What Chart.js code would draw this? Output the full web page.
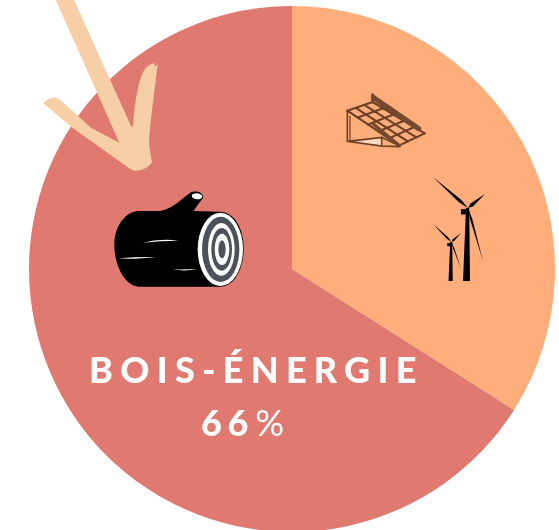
<!DOCTYPE html>
<html><head><meta charset="utf-8">
<style>html,body{margin:0;padding:0;background:#fff;overflow:hidden;width:559px;height:530px}
#w{position:absolute;left:0;top:0;width:559px;height:540px}</style>
<script src="https://cdn.jsdelivr.net/npm/chart.js@4"></script>
</head><body><div id="w"><canvas id="c"></canvas></div>
<script>
const categories = ["Solaire et éolien", "Bois-énergie"];
const shares = [34, 66];
const sliceColors = ["#FFAD7B", "#E07A70"];
const mainLabel = "BOIS-ÉNERGIE";
const shareDigits = "66";
const shareSign = "%";

function poly(ctx, ox, oy, s, f){
  const X=x=>ox+x/s, Y=y=>oy+y/s;
  f({m:(x,y)=>ctx.moveTo(X(x),Y(y)), l:(x,y)=>ctx.lineTo(X(x),Y(y)),
     q:(a,b,x,y)=>ctx.quadraticCurveTo(X(a),Y(b),X(x),Y(y)),
     c:(a,b,c2,d,x,y)=>ctx.bezierCurveTo(X(a),Y(b),X(c2),Y(d),X(x),Y(y))});
}
function arrow(ctx){
  ctx.fillStyle="#F6CFA7"; ctx.beginPath();
  poly(ctx,30,0,3,p=>{
    p.m(75,-5);p.l(268,428);p.l(185,385);p.l(88,298);p.q(65,285,40,310);
    p.l(125,382);p.l(305,510);p.c(325,518,355,505,366,487);p.l(358,440);
    p.c(355,400,372,290,383,192);p.l(376,200);p.l(372,190);p.c(345,195,335,220,325,260);
    p.c(315,300,312,340,308,380);p.l(304,380);p.l(130,-5);
  });
  ctx.closePath();ctx.fill();
}
function log(ctx){
  const X=x=>110+x/3,Y=y=>185+y/3;
  ctx.fillStyle="#000";ctx.beginPath();
  poly(ctx,110,185,3,p=>{
    p.m(85,78);p.l(150,78);p.c(190,72,215,40,240,24);p.c(255,15,280,20,279,38);
    p.l(250,78);p.l(330,80);p.c(372,80,402,130,401,192);p.c(400,255,372,305,330,305);
    p.l(85,305);p.c(40,300,13,235,13,180);p.c(13,125,45,80,85,78);
  });
  ctx.closePath();ctx.fill();
  ctx.fillStyle="#fff";ctx.beginPath();ctx.ellipse(X(261),Y(34),5.2,3,0.1,0,7);ctx.fill();
  const rings=[[68,110,"#fff",331],[56,98,"#4B525B",332],[40,79,"#fff",334],[31,64,"#4B525B",335],[22,47,"#fff",336],[11,27,"#4B525B",336]];
  rings.forEach(r=>{ctx.fillStyle=r[2];ctx.beginPath();ctx.ellipse(X(r[3]),Y(193),r[0]/3,r[1]/3,0,0,7);ctx.fill();});
  ctx.fillStyle="#fff";
  [[[98,173],[150,160],[205,167],[150,167]],[[25,220],[70,216],[138,216],[70,224]],[[188,253],[225,254],[262,252],[225,260]]].forEach(s=>{
    ctx.beginPath();ctx.moveTo(X(s[0][0]),Y(s[0][1]));
    ctx.quadraticCurveTo(X(s[1][0]),Y(s[1][1]),X(s[2][0]),Y(s[2][1]));
    ctx.quadraticCurveTo(X(s[3][0]),Y(s[3][1]),X(s[0][0]),Y(s[0][1]));ctx.fill();
  });
}
function solar(ctx){
  const X=x=>340+x/3,Y=y=>88+y/3;
  const c="#6A4027";
  ctx.lineCap="round";
  ctx.fillStyle="#FFD9C0";ctx.beginPath();ctx.moveTo(X(45),Y(162));ctx.lineTo(X(125),Y(150));ctx.lineTo(X(125),Y(172));ctx.closePath();ctx.fill();
  ctx.strokeStyle=c;
  const A=[22,68],B=[98,42],C=[254,136],D=[178,172];
  const L=(a,b,t)=>[a[0]+(b[0]-a[0])*t,a[1]+(b[1]-a[1])*t];
  ctx.lineWidth=2.1;
  for(let i=0;i<=3;i++){const t=i/3,u=L(A,B,t),v=L(D,C,t);ctx.beginPath();ctx.moveTo(X(u[0]),Y(u[1]));ctx.lineTo(X(v[0]),Y(v[1]));ctx.stroke();}
  for(let i=0;i<=5;i++){const t=i/5,u=L(A,D,t),v=L(B,C,t);ctx.beginPath();ctx.moveTo(X(u[0]),Y(u[1]));ctx.lineTo(X(v[0]),Y(v[1]));ctx.stroke();}
  ctx.lineWidth=5;ctx.strokeStyle="#75492D";ctx.beginPath();ctx.moveTo(X(100),Y(28));ctx.lineTo(X(236),Y(122));ctx.stroke();
  ctx.lineWidth=3;ctx.beginPath();ctx.moveTo(X(98),Y(42));ctx.lineTo(X(98),Y(20));ctx.stroke();
  ctx.lineWidth=3;ctx.beginPath();ctx.moveTo(X(100),Y(108));ctx.lineTo(X(178),Y(172));ctx.stroke();
  ctx.lineWidth=1.6;ctx.strokeStyle=c;
  ctx.beginPath();ctx.moveTo(X(22),Y(68));ctx.lineTo(X(22),Y(160));ctx.lineTo(X(125),Y(174));ctx.lineTo(X(125),Y(148));ctx.lineTo(X(22),Y(160));
  ctx.moveTo(X(125),Y(174));ctx.lineTo(X(180),Y(176));ctx.moveTo(X(125),Y(148));ctx.lineTo(X(175),Y(172));ctx.stroke();
  ctx.lineWidth=1.2;ctx.beginPath();ctx.moveTo(X(30),Y(85));ctx.lineTo(X(30),Y(158));ctx.stroke();
}
function kite(ctx,hx,hy,tx,ty,w){
  const dx=tx-hx,dy=ty-hy,d=Math.hypot(dx,dy),nx=-dy/d,ny=dx/d,mx=hx+dx*.22,my=hy+dy*.22;
  ctx.beginPath();ctx.moveTo(hx,hy);ctx.lineTo(mx+nx*w,my+ny*w);ctx.lineTo(tx,ty);ctx.lineTo(mx-nx*w,my-ny*w);ctx.closePath();ctx.fill();
}
function turbine(ctx,hx,hy,k,baseY,tips){
  ctx.fillStyle="#000";
  ctx.beginPath();ctx.moveTo(hx-2*k,hy);ctx.lineTo(hx+1.2*k,hy);ctx.lineTo(hx+2*k,baseY);ctx.lineTo(hx-5*k,baseY);ctx.closePath();ctx.fill();
  ctx.beginPath();ctx.rect(hx-7*k,hy+1,8*k,5.5*k);ctx.fill();
  tips.forEach(t=>kite(ctx,hx,hy,t[0],t[1],t[2]*k));
}
function spaced(ctx,text,x,y,sp){ctx.letterSpacing=sp+"px";ctx.fillText(text,x,y);const w=ctx.measureText(text).width;ctx.letterSpacing="0px";return w;}
const decor={id:"decor",afterDraw(ch){
  const ctx=ch.ctx;ctx.save();
  arrow(ctx);log(ctx);solar(ctx);
  turbine(ctx,468,208,1,281,[[433,177,1.7],[485,194,1.9],[483,261,1.1]]);
  turbine(ctx,451.5,242,.6,281,[[433,224,1.6],[461,233,1.7],[461,269,1.0]]);
  ctx.fillStyle="#fff";ctx.textBaseline="alphabetic";ctx.textAlign="left";
  ctx.font='900 36px Lato';
  spaced(ctx,mainLabel,89,383,7.3);
  const w=spaced(ctx,shareDigits,201,436,5.5);
  ctx.font='400 36px Lato';
  ctx.fillText(shareSign,201+w+1.5,436);
  ctx.restore();
}};
new Chart(document.getElementById("c"),{
  type:"pie",
  data:{labels:categories,datasets:[{data:shares,backgroundColor:sliceColors,borderWidth:0}]},
  options:{responsive:true,maintainAspectRatio:false,animation:false,
    layout:{padding:{left:29,right:4,top:6,bottom:8}},
    plugins:{legend:{display:false},tooltip:{enabled:false}}},
  plugins:[decor]
});
</script></body></html>
